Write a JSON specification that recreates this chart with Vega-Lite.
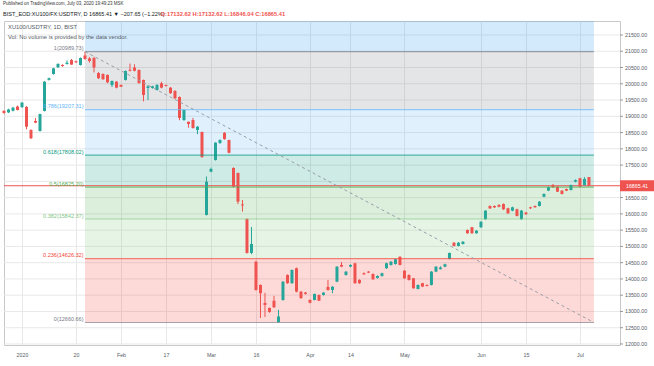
{
 "$schema": "https://vega.github.io/schema/vega-lite/v6.json",
 "width": 616,
 "height": 324,
 "autosize": {"type": "none"},
 "padding": {"left": 4, "top": 21, "right": 34, "bottom": 21},
 "background": "#ffffff",
 "config": {"font": "Liberation Sans", "view": {"stroke": "#c8c8c8", "strokeWidth": 1}},
 "datasets": {
  "yticks": [
   {"v": 12000, "t": "12000.00"}, {"v": 12500, "t": "12500.00"}, {"v": 13000, "t": "13000.00"}, {"v": 13500, "t": "13500.00"},
   {"v": 14000, "t": "14000.00"}, {"v": 14500, "t": "14500.00"}, {"v": 15000, "t": "15000.00"}, {"v": 15500, "t": "15500.00"},
   {"v": 16000, "t": "16000.00"}, {"v": 16500, "t": "16500.00"}, {"v": 17000, "t": ""}, {"v": 17500, "t": "17500.00"},
   {"v": 18000, "t": "18000.00"}, {"v": 18500, "t": "18500.00"}, {"v": 19000, "t": "19000.00"}, {"v": 19500, "t": "19500.00"},
   {"v": 20000, "t": "20000.00"}, {"v": 20500, "t": "20500.00"}, {"v": 21000, "t": "21000.00"}, {"v": 21500, "t": "21500.00"}
  ],
  "bands": [
   {"level": "1.618", "lo": 20989.73, "hi": 26137.61},
   {"level": "1", "lo": 19207.31, "hi": 20989.73},
   {"level": "0.786", "lo": 17808.02, "hi": 19207.31},
   {"level": "0.618", "lo": 16825.20, "hi": 17808.02},
   {"level": "0.5", "lo": 15842.37, "hi": 16825.20},
   {"level": "0.382", "lo": 14626.32, "hi": 15842.37},
   {"level": "0.236", "lo": 12660.66, "hi": 14626.32}
  ],
  "fib": [
   {"level": "1", "price": 20989.73, "label": "1(20989.73)"},
   {"level": "0.786", "price": 19207.31, "label": "0.786(19207.31)"},
   {"level": "0.618", "price": 17808.02, "label": "0.618(17808.02)"},
   {"level": "0.5", "price": 16825.20, "label": "0.5(16825.20)"},
   {"level": "0.382", "price": 15842.37, "label": "0.382(15842.37)"},
   {"level": "0.236", "price": 14626.32, "label": "0.236(14626.32)"},
   {"level": "0", "price": 12660.66, "label": "0(12660.66)"}
  ],
  "header": [
   {"t": "Published on TradingView.com, July 03, 2020 19:49:23 MSK", "p": 22453, "part": "pub"},
   {"t": "BIST_EOD:XU100/FX:USDTRY, D  16865.41 ▼ −207.65 (−1.22%)", "p": 22145, "part": "sym"}
  ],
  "ohlc": [
   {"d":"2019-12-26","i":-4,"o":19164,"h":19190,"l":19080,"c":19102},
   {"d":"2019-12-27","i":-3,"o":19120,"h":19230,"l":19100,"c":19210},
   {"d":"2019-12-30","i":-2,"o":19170,"h":19290,"l":19150,"c":19265},
   {"d":"2019-12-31","i":-1,"o":19300,"h":19330,"l":19180,"c":19195},
   {"d":"2020-01-02","i":0,"o":19280,"h":19440,"l":19260,"c":19420},
   {"d":"2020-01-03","i":1,"o":19290,"h":19310,"l":18600,"c":18680},
   {"d":"2020-01-06","i":2,"o":18580,"h":18600,"l":18300,"c":18325},
   {"d":"2020-01-07","i":3,"o":18856,"h":18950,"l":18790,"c":18805},
   {"d":"2020-01-08","i":4,"o":18550,"h":19080,"l":18530,"c":19070},
   {"d":"2020-01-09","i":5,"o":19165,"h":20080,"l":19150,"c":20065},
   {"d":"2020-01-10","i":6,"o":20120,"h":20190,"l":20100,"c":20170},
   {"d":"2020-01-13","i":7,"o":20300,"h":20490,"l":20280,"c":20475},
   {"d":"2020-01-14","i":8,"o":20505,"h":20630,"l":20490,"c":20610},
   {"d":"2020-01-15","i":9,"o":20578,"h":20600,"l":20520,"c":20547},
   {"d":"2020-01-16","i":10,"o":20610,"h":20720,"l":20590,"c":20650},
   {"d":"2020-01-17","i":11,"o":20730,"h":20760,"l":20580,"c":20590},
   {"d":"2020-01-20","i":12,"o":20690,"h":20710,"l":20640,"c":20660},
   {"d":"2020-01-21","i":13,"o":20578,"h":20810,"l":20560,"c":20793},
   {"d":"2020-01-22","i":14,"o":20870,"h":20989.73,"l":20740,"c":20760},
   {"d":"2020-01-23","i":15,"o":20780,"h":20820,"l":20650,"c":20700},
   {"d":"2020-01-24","i":16,"o":20790,"h":20830,"l":20350,"c":20500},
   {"d":"2020-01-27","i":17,"o":20330,"h":20360,"l":20150,"c":20170},
   {"d":"2020-01-28","i":18,"o":20300,"h":20320,"l":20120,"c":20140},
   {"d":"2020-01-29","i":19,"o":20270,"h":20290,"l":20020,"c":20045},
   {"d":"2020-01-30","i":20,"o":19963,"h":20100,"l":19900,"c":20086},
   {"d":"2020-01-31","i":21,"o":20065,"h":20080,"l":19860,"c":19880},
   {"d":"2020-02-03","i":22,"o":19963,"h":19980,"l":19900,"c":19910},
   {"d":"2020-02-04","i":23,"o":20117,"h":20410,"l":20100,"c":20393},
   {"d":"2020-02-05","i":24,"o":20430,"h":20620,"l":20380,"c":20400},
   {"d":"2020-02-06","i":25,"o":20500,"h":20600,"l":20380,"c":20400},
   {"d":"2020-02-07","i":26,"o":20424,"h":20440,"l":20000,"c":20024},
   {"d":"2020-02-10","i":27,"o":20117,"h":20130,"l":19460,"c":19656},
   {"d":"2020-02-11","i":28,"o":19870,"h":19960,"l":19500,"c":19920},
   {"d":"2020-02-12","i":29,"o":19871,"h":19940,"l":19850,"c":19920},
   {"d":"2020-02-13","i":30,"o":19809,"h":19990,"l":19790,"c":19963},
   {"d":"2020-02-14","i":31,"o":20015,"h":20060,"l":19860,"c":19880},
   {"d":"2020-02-17","i":32,"o":19960,"h":19975,"l":19920,"c":19930},
   {"d":"2020-02-18","i":33,"o":19880,"h":19900,"l":19690,"c":19710},
   {"d":"2020-02-19","i":34,"o":19780,"h":19800,"l":19530,"c":19554},
   {"d":"2020-02-20","i":35,"o":19594,"h":19610,"l":18880,"c":18949},
   {"d":"2020-02-21","i":36,"o":18887,"h":19210,"l":18860,"c":19195},
   {"d":"2020-02-24","i":37,"o":18830,"h":18840,"l":18650,"c":18764},
   {"d":"2020-02-25","i":38,"o":18887,"h":18950,"l":18620,"c":18641},
   {"d":"2020-02-26","i":39,"o":18580,"h":18700,"l":18450,"c":18680},
   {"d":"2020-02-27","i":40,"o":18518,"h":18530,"l":17720,"c":17750},
   {"d":"2020-02-28","i":41,"o":15967,"h":17150,"l":15950,"c":16990},
   {"d":"2020-03-02","i":42,"o":17300,"h":17420,"l":17280,"c":17380},
   {"d":"2020-03-03","i":43,"o":17658,"h":18200,"l":17640,"c":18190},
   {"d":"2020-03-04","i":44,"o":18180,"h":18290,"l":18150,"c":18272},
   {"d":"2020-03-05","i":45,"o":18494,"h":18510,"l":18280,"c":18300},
   {"d":"2020-03-06","i":46,"o":18272,"h":18280,"l":17860,"c":17880},
   {"d":"2020-03-09","i":47,"o":17412,"h":17430,"l":16820,"c":16837},
   {"d":"2020-03-10","i":48,"o":17258,"h":17270,"l":16300,"c":16376},
   {"d":"2020-03-11","i":49,"o":16290,"h":16430,"l":16070,"c":16260},
   {"d":"2020-03-12","i":50,"o":15844,"h":15860,"l":14780,"c":14799},
   {"d":"2020-03-13","i":51,"o":14800,"h":15600,"l":14760,"c":15075},
   {"d":"2020-03-16","i":52,"o":14530,"h":14560,"l":13640,"c":13661},
   {"d":"2020-03-17","i":53,"o":13815,"h":13830,"l":12800,"c":13560},
   {"d":"2020-03-18","i":54,"o":13262,"h":13570,"l":12830,"c":13200},
   {"d":"2020-03-19","i":55,"o":13108,"h":13120,"l":12960,"c":12985},
   {"d":"2020-03-20","i":56,"o":13330,"h":13480,"l":13110,"c":13130},
   {"d":"2020-03-23","i":57,"o":12670,"h":13050,"l":12660.66,"c":12845},
   {"d":"2020-03-24","i":58,"o":13354,"h":13930,"l":13330,"c":13917},
   {"d":"2020-03-25","i":59,"o":14122,"h":14140,"l":13850,"c":13870},
   {"d":"2020-03-26","i":60,"o":13870,"h":14290,"l":13850,"c":14276},
   {"d":"2020-03-27","i":61,"o":14330,"h":14350,"l":13590,"c":13610},
   {"d":"2020-03-30","i":62,"o":13610,"h":13620,"l":13390,"c":13410},
   {"d":"2020-03-31","i":63,"o":13580,"h":13600,"l":13520,"c":13540},
   {"d":"2020-04-01","i":64,"o":13354,"h":13370,"l":13250,"c":13270},
   {"d":"2020-04-02","i":65,"o":13354,"h":13550,"l":13340,"c":13538},
   {"d":"2020-04-03","i":66,"o":13508,"h":13520,"l":13320,"c":13330},
   {"d":"2020-04-06","i":67,"o":13508,"h":13590,"l":13490,"c":13580},
   {"d":"2020-04-07","i":68,"o":13754,"h":13970,"l":13640,"c":13661},
   {"d":"2020-04-08","i":69,"o":13661,"h":13780,"l":13560,"c":13760},
   {"d":"2020-04-09","i":70,"o":13917,"h":14390,"l":13900,"c":14378},
   {"d":"2020-04-10","i":71,"o":14430,"h":14520,"l":14360,"c":14380},
   {"d":"2020-04-13","i":72,"o":14123,"h":14240,"l":14100,"c":14225},
   {"d":"2020-04-14","i":73,"o":14380,"h":14450,"l":14360,"c":14430},
   {"d":"2020-04-15","i":74,"o":14480,"h":14500,"l":13850,"c":13870},
   {"d":"2020-04-16","i":75,"o":13969,"h":13990,"l":13850,"c":13870},
   {"d":"2020-04-17","i":76,"o":14175,"h":14200,"l":14120,"c":14145},
   {"d":"2020-04-20","i":77,"o":14225,"h":14240,"l":14180,"c":14195},
   {"d":"2020-04-21","i":78,"o":14153,"h":14170,"l":13970,"c":13990},
   {"d":"2020-04-22","i":79,"o":14030,"h":14110,"l":14010,"c":14092},
   {"d":"2020-04-24","i":80,"o":14092,"h":14190,"l":14070,"c":14175},
   {"d":"2020-04-27","i":81,"o":14330,"h":14500,"l":14310,"c":14483},
   {"d":"2020-04-28","i":82,"o":14430,"h":14550,"l":14410,"c":14530},
   {"d":"2020-04-29","i":83,"o":14460,"h":14620,"l":14440,"c":14605},
   {"d":"2020-04-30","i":84,"o":14680,"h":14700,"l":14420,"c":14430},
   {"d":"2020-05-04","i":85,"o":14255,"h":14270,"l":14000,"c":14020},
   {"d":"2020-05-05","i":86,"o":14122,"h":14140,"l":13950,"c":13969},
   {"d":"2020-05-06","i":87,"o":14020,"h":14030,"l":13700,"c":13713},
   {"d":"2020-05-07","i":88,"o":13692,"h":13830,"l":13680,"c":13815},
   {"d":"2020-05-08","i":89,"o":13870,"h":13880,"l":13750,"c":13765},
   {"d":"2020-05-11","i":90,"o":13815,"h":13830,"l":13770,"c":13785},
   {"d":"2020-05-12","i":91,"o":13815,"h":14240,"l":13800,"c":14225},
   {"d":"2020-05-13","i":92,"o":14225,"h":14390,"l":14210,"c":14378},
   {"d":"2020-05-14","i":93,"o":14300,"h":14390,"l":14290,"c":14350},
   {"d":"2020-05-15","i":94,"o":14378,"h":14470,"l":14360,"c":14450},
   {"d":"2020-05-18","i":95,"o":14614,"h":14810,"l":14600,"c":14799},
   {"d":"2020-05-20","i":96,"o":15115,"h":15130,"l":15000,"c":15014},
   {"d":"2020-05-21","i":97,"o":15014,"h":15130,"l":15000,"c":15115},
   {"d":"2020-05-22","i":98,"o":15075,"h":15160,"l":15060,"c":15145},
   {"d":"2020-05-27","i":99,"o":15506,"h":15520,"l":15390,"c":15404},
   {"d":"2020-05-28","i":100,"o":15590,"h":15600,"l":15390,"c":15404},
   {"d":"2020-05-29","i":101,"o":15404,"h":15500,"l":15390,"c":15485},
   {"d":"2020-06-01","i":102,"o":15588,"h":15770,"l":15570,"c":15760},
   {"d":"2020-06-02","i":103,"o":15834,"h":16110,"l":15820,"c":16100},
   {"d":"2020-06-03","i":104,"o":16243,"h":16260,"l":16150,"c":16170},
   {"d":"2020-06-04","i":105,"o":16243,"h":16260,"l":16180,"c":16200},
   {"d":"2020-06-05","i":106,"o":16274,"h":16300,"l":16200,"c":16220},
   {"d":"2020-06-08","i":107,"o":16305,"h":16320,"l":16120,"c":16142},
   {"d":"2020-06-09","i":108,"o":16172,"h":16190,"l":16000,"c":16018},
   {"d":"2020-06-10","i":109,"o":16100,"h":16220,"l":16080,"c":16203},
   {"d":"2020-06-11","i":110,"o":16142,"h":16160,"l":15920,"c":15936},
   {"d":"2020-06-12","i":111,"o":15834,"h":16120,"l":15820,"c":16100},
   {"d":"2020-06-15","i":112,"o":16040,"h":16060,"l":15970,"c":15990},
   {"d":"2020-06-16","i":113,"o":16203,"h":16220,"l":16150,"c":16172},
   {"d":"2020-06-17","i":114,"o":16243,"h":16260,"l":16190,"c":16203},
   {"d":"2020-06-18","i":115,"o":16243,"h":16390,"l":16230,"c":16376},
   {"d":"2020-06-19","i":116,"o":16530,"h":16630,"l":16510,"c":16612},
   {"d":"2020-06-22","i":117,"o":16715,"h":16840,"l":16700,"c":16818},
   {"d":"2020-06-23","i":118,"o":16889,"h":16920,"l":16800,"c":16818},
   {"d":"2020-06-24","i":119,"o":16837,"h":16850,"l":16670,"c":16683},
   {"d":"2020-06-25","i":120,"o":16714,"h":16730,"l":16600,"c":16612},
   {"d":"2020-06-26","i":121,"o":16766,"h":16780,"l":16700,"c":16714},
   {"d":"2020-06-29","i":122,"o":16735,"h":16900,"l":16720,"c":16889},
   {"d":"2020-06-30","i":123,"o":16990,"h":17060,"l":16970,"c":17040},
   {"d":"2020-07-01","i":124,"o":17094,"h":17110,"l":16820,"c":16837},
   {"d":"2020-07-02","i":125,"o":16889,"h":17130,"l":16870,"c":17073.06},
   {"d":"2020-07-03","i":126,"o":17132.62,"h":17132.62,"l":16846.04,"c":16865.41}
  ]
 },
 "layer": [
  {
   "data": {"name": "yticks"},
   "mark": {"type": "rule", "color": "#e8e8e8", "strokeWidth": 1},
   "encoding": {
    "y": {"field": "v", "type": "quantitative", "axis": null, "scale": {"domain": [11969, 21930], "nice": false, "zero": false, "padding": 0}}
   }
  },
  {
   "data": {"name": "bands"},
   "mark": {"type": "rect", "clip": true, "fillOpacity": 0.2, "strokeWidth": 0},
   "encoding": {
    "x": {"datum": 14, "type": "quantitative", "scale": {"domain": [-4, 132.9], "nice": false, "zero": false, "padding": 0},
     "axis": {"values": [0, 12, 22, 32, 42, 52, 64, 73, 85, 102, 112, 124],
      "labelExpr": "datum.value==0?'2020':datum.value==12?'20':datum.value==22?'Feb':datum.value==32?'17':datum.value==42?'Mar':datum.value==52?'16':datum.value==64?'Apr':datum.value==73?'14':datum.value==85?'May':datum.value==102?'Jun':datum.value==112?'15':datum.value==124?'Jul':''",
      "grid": true, "gridColor": "#e8e8e8", "ticks": false, "domain": false, "title": null,
      "labelFontSize": 5.3, "labelColor": "#555b66", "labelPadding": 7}},
    "x2": {"datum": 127.1},
    "y": {"field": "lo", "type": "quantitative", "axis": null},
    "y2": {"field": "hi"},
    "color": {"field": "level", "type": "nominal", "legend": null,
     "scale": {"domain": ["1.618", "1", "0.786", "0.618", "0.5", "0.382", "0.236", "0"],
               "range": ["#2196f3", "#787b86", "#64b5f6", "#089981", "#4caf50", "#81c784", "#f44336", "#787b86"]}}
   }
  },
  {
   "data": {"values": [{"close": 16865.41}]},
   "mark": {"type": "rule", "color": "#ef5350", "strokeWidth": 1},
   "encoding": {
    "y": {"field": "close", "type": "quantitative", "axis": null}
   }
  },
  {
   "data": {"name": "ohlc"},
   "mark": {"type": "rule", "strokeWidth": 1},
   "encoding": {
    "x": {"field": "i", "type": "quantitative", "title": null},
    "y": {"field": "l", "type": "quantitative", "axis": null},
    "y2": {"field": "h"},
    "color": {"condition": {"test": "datum.c >= datum.o", "value": "#26a69a"}, "value": "#ef5350"}
   }
  },
  {
   "data": {"name": "ohlc"},
   "mark": {"type": "bar", "size": 3},
   "encoding": {
    "x": {"field": "i", "type": "quantitative", "title": null},
    "y": {"field": "o", "type": "quantitative", "axis": null},
    "y2": {"field": "c"},
    "color": {"condition": {"test": "datum.c >= datum.o", "value": "#26a69a"}, "value": "#ef5350"}
   }
  },
  {
   "data": {"name": "fib"},
   "mark": {"type": "rule", "strokeWidth": 1.2, "strokeOpacity": 0.65},
   "encoding": {
    "x": {"datum": 14, "type": "quantitative", "title": null},
    "x2": {"datum": 127.1},
    "y": {"field": "price", "type": "quantitative", "axis": null},
    "color": {"field": "level", "type": "nominal", "legend": null}
   }
  },
  {
   "data": {"name": "fib"},
   "mark": {"type": "text", "align": "right", "baseline": "bottom", "dx": -1.5, "dy": -0.5, "fontSize": 5.5},
   "encoding": {
    "x": {"datum": 14, "type": "quantitative", "title": null},
    "y": {"field": "price", "type": "quantitative", "axis": null},
    "text": {"field": "label"},
    "color": {"field": "level", "type": "nominal", "legend": null}
   }
  },
  {
   "data": {"values": [{"from": "high", "to": "low"}]},
   "mark": {"type": "rule", "strokeDash": [3, 3], "color": "#9a9ea8", "strokeWidth": 1},
   "encoding": {
    "x": {"datum": 14, "type": "quantitative", "title": null},
    "y": {"datum": 20989.73, "type": "quantitative", "axis": null},
    "x2": {"datum": 127.1},
    "y2": {"datum": 12660.66}
   }
  },
  {
   "data": {"name": "yticks"},
   "mark": {"type": "rule", "color": "#9598a1", "strokeWidth": 1, "x2Offset": 3},
   "encoding": {
    "x": {"value": "width"},
    "x2": {"value": "width"},
    "y": {"field": "v", "type": "quantitative", "axis": null}
   }
  },
  {
   "data": {"name": "yticks"},
   "mark": {"type": "text", "align": "left", "baseline": "middle", "dx": 5, "fontSize": 5.3, "color": "#555b66"},
   "encoding": {
    "x": {"value": "width"},
    "y": {"field": "v", "type": "quantitative", "axis": null},
    "text": {"field": "t"}
   }
  },
  {
   "data": {"values": [{"close": 16865.41}]},
   "mark": {"type": "rect", "color": "#ef5350", "x2Offset": 34, "yOffset": -5.5, "y2Offset": 5.5},
   "encoding": {
    "x": {"value": "width"},
    "x2": {"value": "width"},
    "y": {"field": "close", "type": "quantitative", "axis": null},
    "y2": {"field": "close"}
   }
  },
  {
   "data": {"values": [{"close": 16865.41, "t": "16865.41"}]},
   "mark": {"type": "text", "color": "#ffffff", "align": "center", "baseline": "middle", "dx": 17, "fontSize": 5.3},
   "encoding": {
    "x": {"value": "width"},
    "y": {"field": "close", "type": "quantitative", "axis": null},
    "text": {"field": "t"}
   }
  },
  {
   "data": {"values": [{"t": "XU100/USDTRY, 1D, BIST", "p": 21746}, {"t": "Vol: No volume is provided by the data vendor.", "p": 21438}]},
   "mark": {"type": "text", "align": "left", "baseline": "middle", "fontSize": 5.8, "color": "#555b66"},
   "encoding": {
    "x": {"datum": -3.1, "type": "quantitative", "title": null},
    "y": {"field": "p", "type": "quantitative", "axis": null},
    "text": {"field": "t"}
   }
  },
  {
   "data": {"name": "header"},
   "mark": {"type": "text", "align": "left", "baseline": "middle"},
   "encoding": {
    "x": {"datum": -4.2, "type": "quantitative", "title": null},
    "y": {"field": "p", "type": "quantitative", "axis": null},
    "text": {"field": "t"},
    "fontWeight": {"condition": {"test": "datum.part == 'sym'", "value": "bold"}, "value": "normal"},
    "size": {"condition": {"test": "datum.part == 'sym'", "value": 5.5}, "value": 4.5},
    "color": {"condition": {"test": "datum.part == 'sym'", "value": "#131722"}, "value": "#333333"}
   }
  },
  {
   "data": {"values": [{"t": "O:17132.62 H:17132.62 L:16846.04 C:16865.41", "p": 22145}]},
   "mark": {"type": "text", "align": "left", "baseline": "middle", "fontSize": 5.75, "fontWeight": "bold", "color": "#ef5350"},
   "encoding": {
    "x": {"datum": 30.8, "type": "quantitative", "title": null},
    "y": {"field": "p", "type": "quantitative", "axis": null},
    "text": {"field": "t"}
   }
  }
 ]
}
